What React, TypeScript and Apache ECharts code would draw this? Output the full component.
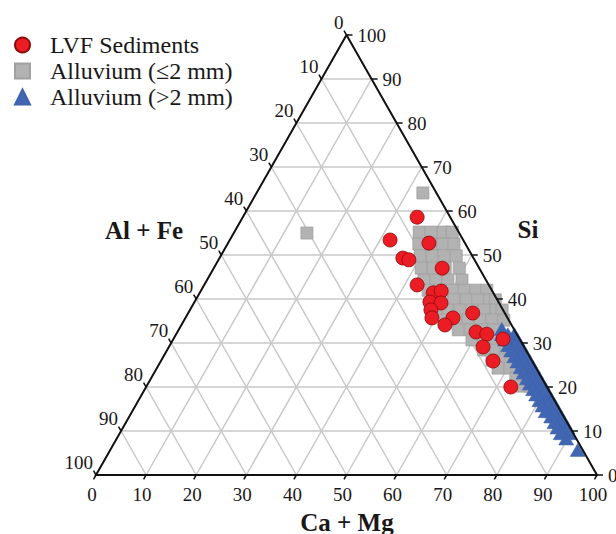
import React, { useEffect, useRef } from "react";
import * as echarts from "echarts";

// Axis ticks (percent) for all three ternary axes
const TICKS = [0, 10, 20, 30, 40, 50, 60, 70, 80, 90, 100];
const GRID_STEPS = [10, 20, 30, 40, 50, 60, 70, 80, 90];

const SERIES_NAMES = ["LVF Sediments", "Alluvium (≤2 mm)", "Alluvium (>2 mm)"];
const TITLE_LEFT = "Al + Fe";
const TITLE_RIGHT = "Si";
const TITLE_BOTTOM = "Ca + Mg";

// Points as [Si, Ca + Mg]; Al + Fe = 100 − Si − (Ca + Mg)
const LVF_SEDIMENTS: [number, number][] = [
  [58.6, 34.8], [53.4, 32.0], [52.7, 40.1], [49.3, 36.6], [48.9, 38.0],
  [47.0, 45.6], [43.2, 42.5], [41.4, 46.6], [41.8, 48.0], [39.3, 47.0],
  [39.1, 49.3], [37.5, 48.1], [35.7, 49.2], [35.7, 53.4], [34.1, 52.6],
  [36.8, 56.8], [32.5, 59.6], [32.0, 62.0], [30.9, 65.8], [29.1, 62.7],
  [25.9, 66.3], [20.0, 72.8],
];

const ALLUVIUM_FINE: [number, number][] = [
  [55.0, 14.6], [64.1, 33.2],
  [55.2, 36.9], [55.2, 39.3], [55.2, 41.7], [55.2, 43.5],
  [52.5, 38.2], [52.5, 40.6], [52.5, 43.0], [52.5, 45.2],
  [49.8, 39.8], [49.8, 42.2], [49.8, 44.6], [49.8, 47.0],
  [47.0, 41.4], [47.0, 43.8], [47.0, 46.2], [47.0, 49.0],
  [44.3, 43.3], [44.3, 45.7], [44.3, 48.1], [44.3, 50.9],
  [42.0, 45.3], [42.0, 47.7], [42.0, 50.1], [42.0, 52.5], [42.0, 54.8], [42.0, 57.0],
  [39.8, 46.8], [39.8, 49.2], [39.8, 51.6], [39.8, 54.0], [39.8, 56.3], [39.8, 58.7], [39.8, 59.8],
  [37.5, 49.1], [37.5, 51.5], [37.5, 53.9], [37.5, 56.3], [37.5, 58.7], [37.5, 61.1], [37.5, 62.3],
  [35.2, 51.9], [35.2, 54.3], [35.2, 56.7], [35.2, 59.0], [35.2, 61.4], [35.2, 63.8],
  [33.0, 55.8], [33.0, 58.2], [33.0, 60.5], [33.0, 62.9],
  [30.7, 59.7], [30.7, 62.1], [30.7, 64.5],
  [28.4, 63.2], [28.4, 65.6], [28.4, 67.6],
  [26.1, 66.0], [26.1, 68.4],
  [24.3, 68.1], [24.3, 70.5],
  [22.0, 72.8], [22.0, 74.4],
  [20.2, 74.9], [20.2, 76.5],
];

const ALLUVIUM_COARSE: [number, number][] = [
  [33.2, 64.4],
  [32.0, 67.5], [32.0, 66.2], [32.0, 65.0],
  [30.8, 68.7], [30.8, 67.4], [30.8, 66.2],
  [29.5, 70.0], [29.5, 68.7], [29.5, 67.5],
  [28.3, 71.2], [28.3, 70.0], [28.3, 68.7],
  [27.0, 72.5], [27.0, 71.2], [27.0, 70.0],
  [25.8, 73.7], [25.8, 72.4], [25.8, 71.2],
  [24.5, 75.0], [24.5, 73.7], [24.5, 72.5],
  [23.3, 76.2], [23.3, 74.9], [23.3, 73.7],
  [22.0, 77.5], [22.0, 76.2], [22.0, 75.0],
  [20.8, 78.7], [20.8, 77.4], [20.8, 76.2],
  [19.5, 80.0], [19.5, 78.7], [19.5, 77.5],
  [18.3, 81.2], [18.3, 79.9], [18.3, 78.7],
  [17.0, 82.5], [17.0, 81.2], [17.0, 80.0],
  [15.8, 83.7], [15.8, 82.4], [15.8, 81.2],
  [14.5, 85.0], [14.5, 83.7], [14.5, 82.5],
  [13.3, 86.2], [13.3, 85.2], [13.3, 84.2],
  [12.0, 87.5], [12.0, 86.5], [12.0, 85.5],
  [10.8, 88.7], [10.8, 86.7],
  [9.5, 89.7], [9.5, 88.0],
  [8.3, 89.7],
  [5.7, 93.3],
];

const SERIF = "'Liberation Serif', 'Times New Roman', serif";
const TEXT_COLOR = "#1a1718";

// ternary (Si, Ca+Mg) -> cartesian (x along bottom, y = height)
function toXY(si: number, camg: number): [number, number] {
  return [camg + si / 2, si];
}

// pixel scale of the cartesian grid (for tick mark lengths)
const PX_X = 501 / 100;
const PX_Y = 440 / 100;

function buildOption(): any {
  const gridLines: any[] = [];
  GRID_STEPS.forEach((k) => {
    gridLines.push({ coords: [toXY(k, 0), toXY(k, 100 - k)] }); // Si = k
    gridLines.push({ coords: [toXY(0, k), toXY(100 - k, k)] }); // Ca+Mg = k
    gridLines.push({ coords: [toXY(0, 100 - k), toXY(100 - k, 0)] }); // Al+Fe = k
  });

  const tickMarks: any[] = [];
  const sx = 2.5 / PX_X;
  const sy = 4.3 / PX_Y;
  TICKS.forEach((k) => {
    const r = toXY(k, 100 - k);
    tickMarks.push({ coords: [r, [r[0] + 6 / PX_X, r[1]]] });
    const b = toXY(0, k);
    tickMarks.push({ coords: [b, [b[0] - sx, b[1] - sy]] });
    const l = toXY(100 - k, 0);
    tickMarks.push({ coords: [l, [l[0] - sx, l[1] + sy]] });
  });

  const border = [{ coords: [toXY(100, 0), toXY(0, 0), toXY(0, 100), toXY(100, 0)] }];

  const labelBase = {
    show: true,
    position: "inside",
    formatter: "{b}",
    fontSize: 19,
    fontFamily: SERIF,
    color: TEXT_COLOR,
    textBorderWidth: 0,
    textBorderColor: "transparent",
    opacity: 1,
  };

  const labelSeries = (data: any[], label: any) => ({
    type: "scatter",
    data,
    symbolSize: 2,
    itemStyle: { color: "transparent" },
    silent: true,
    z: 5,
    label: { ...labelBase, ...label },
  });

  const pts = (arr: [number, number][]) => arr.map(([si, cm]) => toXY(si, cm));

  const titleStyle = (text: string) => ({
    text,
    font: `bold 25px ${SERIF}`,
    fill: TEXT_COLOR,
    align: "center",
    verticalAlign: "middle",
    textAlign: "center",
    textVerticalAlign: "middle",
  });

  return {
    animation: false,
    backgroundColor: "#ffffff",
    grid: { left: 96, top: 35, width: 501, height: 440, show: false },
    xAxis: { type: "value", min: 0, max: 100, show: false },
    yAxis: { type: "value", min: 0, max: 100, show: false },
    legend: {
      orient: "vertical",
      left: 14,
      top: 33,
      padding: 0,
      itemGap: 2,
      itemWidth: 15,
      itemHeight: 15,
      selectedMode: false,
      data: SERIES_NAMES,
      textStyle: {
        fontFamily: SERIF,
        fontSize: 24,
        lineHeight: 24,
        color: TEXT_COLOR,
        padding: [0, 0, 0, 15],
      },
    },
    graphic: [
      { type: "text", x: 144, y: 230, style: titleStyle(TITLE_LEFT) },
      { type: "text", x: 528, y: 229, style: titleStyle(TITLE_RIGHT) },
      { type: "text", x: 347, y: 522, style: titleStyle(TITLE_BOTTOM) },
    ],
    series: [
      {
        type: "lines",
        coordinateSystem: "cartesian2d",
        data: gridLines,
        silent: true,
        clip: false,
        lineStyle: { color: "#c8c8c8", width: 1.5, opacity: 1 },
        z: 1,
      },
      {
        name: SERIES_NAMES[1],
        type: "scatter",
        data: pts(ALLUVIUM_FINE),
        symbol: "rect",
        symbolSize: 12,
        itemStyle: { color: "#b2b2b2", borderColor: "#a0a0a0", borderWidth: 0.8, opacity: 1 },
        z: 2,
      },
      {
        name: SERIES_NAMES[2],
        type: "scatter",
        data: pts(ALLUVIUM_COARSE),
        symbol: "triangle",
        symbolSize: [15, 13],
        itemStyle: { color: "#4267b2", borderColor: "#3f63ad", borderWidth: 0.5, opacity: 1 },
        z: 3,
      },
      {
        type: "lines",
        coordinateSystem: "cartesian2d",
        polyline: true,
        data: border,
        silent: true,
        clip: false,
        lineStyle: { color: "#111111", width: 2, opacity: 1 },
        z: 4,
      },
      {
        type: "lines",
        coordinateSystem: "cartesian2d",
        data: tickMarks,
        silent: true,
        clip: false,
        lineStyle: { color: "#111111", width: 1.5, opacity: 1 },
        z: 4,
      },
      {
        name: SERIES_NAMES[0],
        type: "scatter",
        data: pts(LVF_SEDIMENTS),
        symbol: "circle",
        symbolSize: 14,
        itemStyle: { color: "#ec1c24", borderColor: "#8a0a0a", borderWidth: 0.8, opacity: 1 },
        z: 6,
      },
      labelSeries(
        TICKS.map((k) => ({ value: toXY(k, 100 - k), name: String(k) })),
        { align: "left", verticalAlign: "middle", offset: [11, 0] }
      ),
      labelSeries(
        TICKS.map((k) => ({ value: toXY(0, k), name: String(k) })),
        { align: "center", verticalAlign: "middle", offset: [-4, 19] }
      ),
      labelSeries(
        TICKS.map((k) => ({ value: toXY(100 - k, 0), name: String(k) })),
        { align: "right", verticalAlign: "bottom", offset: [-3, -3] }
      ),
    ],
  };
}

export default function App() {
  const ref = useRef<HTMLDivElement>(null);
  useEffect(() => {
    if (!ref.current) return;
    const chart = echarts.init(ref.current, undefined, { renderer: "svg" });
    chart.setOption(buildOption());
    return () => chart.dispose();
  }, []);
  return (
    <div
      ref={ref}
      style={{ position: "absolute", left: 0, top: 0, width: 616, height: 534, background: "#fff" }}
    />
  );
}
